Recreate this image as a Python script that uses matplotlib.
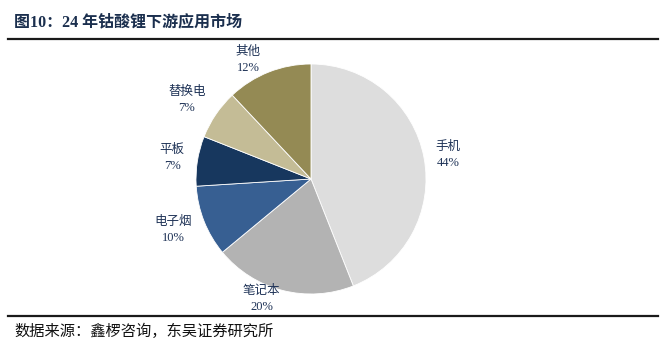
import numpy as np
import matplotlib
matplotlib.use("Agg")
import matplotlib.pyplot as plt
from matplotlib.lines import Line2D

categories = ["手机", "笔记本", "电子烟", "平板", "替换电", "其他"]
values = [44, 20, 10, 7, 7, 12]
pct_labels = ["44%", "20%", "10%", "7%", "7%", "12%"]
colors = ["#DDDDDD", "#B3B3B3", "#375F92", "#17375E", "#C4BC96", "#948A54"]
label_dist = [1.21, 1.13, 1.28, 1.22, 1.28, 1.17]
label_ang_shift = [-1, -8, -1.3, 0.4, 1.7, 6.3]

W, H = 671, 364
fig = plt.figure(figsize=(W / 100, H / 100), dpi=100)

cx, cy, r = 311, 179, 115
span = 3.0
aw, ah = r * span / W, r * span / H
ax = fig.add_axes([cx / W - aw / 2, 1 - cy / H - ah / 2, aw, ah])
wedges, _ = ax.pie(values, colors=colors, startangle=90, counterclock=False,
                   radius=1.0, wedgeprops=dict(linewidth=0.6, edgecolor="white"))
ax.set_xlim(-span / 2, span / 2)
ax.set_ylim(-span / 2, span / 2)
ax.set_aspect("auto")
ax.axis("off")

lab_fam = ["Liberation Serif", "Noto Sans CJK SC"]
for w, cat, pct, d, s in zip(wedges, categories, pct_labels, label_dist, label_ang_shift):
    ang = np.deg2rad((w.theta1 + w.theta2) / 2 + s)
    x, y = d * np.cos(ang), d * np.sin(ang)
    ax.text(x, y, cat + "\n" + pct, ha="center", va="center", fontsize=9,
            color="#1F3357", family=lab_fam, linespacing=1.45)

fig.text(14 / W, 1 - 22 / H, "图10：24 年钴酸锂下游应用市场", ha="left", va="center",
         fontsize=11.5, fontweight="bold", color="#1B2F4E",
         family=["Liberation Serif", "Noto Sans CJK SC"])
fig.add_artist(Line2D([8 / W, 658 / W], [1 - 39 / H, 1 - 39 / H], color="#1a1a1a",
                      linewidth=1.6, transform=fig.transFigure))
fig.add_artist(Line2D([8 / W, 658 / W], [1 - 316 / H, 1 - 316 / H], color="#1a1a1a",
                      linewidth=1.6, transform=fig.transFigure))
fig.text(14 / W, 1 - 331 / H, "数据来源：鑫椤咨询，东吴证券研究所", ha="left", va="center",
         fontsize=11, color="#111111", family=["Noto Sans CJK SC", "DejaVu Sans"])

fig.savefig("out.png", dpi=100)
